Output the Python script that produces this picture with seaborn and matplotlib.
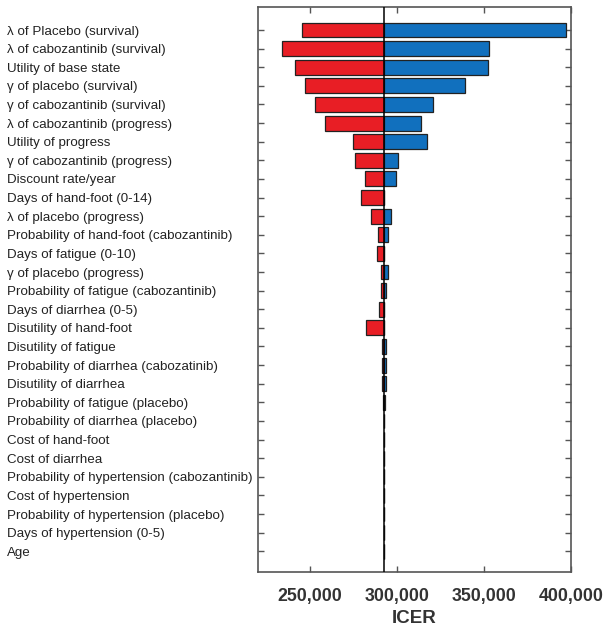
import numpy as np
import pandas as pd
import matplotlib
matplotlib.use("Agg")
import matplotlib.pyplot as plt
from matplotlib.ticker import FixedLocator, FuncFormatter
import seaborn as sns

# tornado diagram - one-way sensitivity of ICER
params = [
    "λ of Placebo (survival)",
    "λ of cabozantinib (survival)",
    "Utility of base state",
    "γ of placebo (survival)",
    "γ of cabozantinib (survival)",
    "λ of cabozantinib (progress)",
    "Utility of progress",
    "γ of cabozantinib (progress)",
    "Discount rate/year",
    "Days of hand-foot (0-14)",
    "λ of placebo (progress)",
    "Probability of hand-foot (cabozantinib)",
    "Days of fatigue (0-10)",
    "γ of placebo (progress)",
    "Probability of fatigue (cabozantinib)",
    "Days of diarrhea (0-5)",
    "Disutility of hand-foot",
    "Disutility of fatigue",
    "Probability of diarrhea (cabozatinib)",
    "Disutility of diarrhea",
    "Probability of fatigue (placebo)",
    "Probability of diarrhea (placebo)",
    "Cost of hand-foot",
    "Cost of diarrhea",
    "Probability of hypertension (cabozantinib)",
    "Cost of hypertension",
    "Probability of hypertension (placebo)",
    "Days of hypertension (0-5)",
    "Age",
]

base_icer = 292300

icer_low = [245500, 233600, 241100, 246900, 253000, 258700, 274800, 276000, 281700,
            279000, 284800, 289200, 288400, 290900, 290700, 289700, 282100,
            291400, 291400, 291400, 292000,
            292300, 292300, 292300, 292300, 292300, 292300, 292300, 292300]

icer_high = [396900, 352700, 352100, 339200, 320800, 313600, 317200, 300300, 299200,
             292300, 296700, 294900, 292300, 294900, 293600, 292300, 292300,
             293800, 293800, 293800, 292800,
             292300, 292300, 292300, 292300, 292300, 292300, 292300, 292300]

x_ticks = [250000, 300000, 350000, 400000]

red = "#E81E25"
blue = "#1170BE"

sns.set_theme(style="white")
plt.rcParams['font.family'] = ['Liberation Sans', 'DejaVu Sans']

df = pd.DataFrame({
    "param": params,
    "low": np.array(icer_low) - base_icer,
    "high": np.array(icer_high) - base_icer,
})

fig = plt.figure(figsize=(6.06, 6.27), dpi=100)
ax = fig.add_axes([258 / 606, 1 - 572.3 / 627, (571 - 258) / 606, (572.3 - 7.3) / 627])

sns.barplot(data=df, x="low", y="param", orient="h", color=red, saturation=1,
            edgecolor="#222222", linewidth=0.9, width=0.8, errorbar=None, ax=ax)
sns.barplot(data=df, x="high", y="param", orient="h", color=blue, saturation=1,
            edgecolor="#222222", linewidth=0.9, width=0.8, errorbar=None, ax=ax)

ax.axvline(0, color="black", lw=1.1, zorder=5)

ax.set_xlim(220000 - base_icer, 400000 - base_icer)
ax.set_ylim(len(params) - 1 + 1.13, -1.22)

ax.xaxis.set_major_locator(FixedLocator([t - base_icer for t in x_ticks]))
ax.xaxis.set_major_formatter(FuncFormatter(lambda v, p: f"{v + base_icer:,.0f}"))

ax.set_yticks(range(len(params)))
ax.set_yticklabels(params, ha="left", fontsize=9.6, color="#222222")

for s in ax.spines.values():
    s.set_color("#555555")
    s.set_linewidth(1.2)

ax.tick_params(axis="both", direction="in", length=4, width=1, color="#555555",
               top=True, right=True, left=True, bottom=True)
ax.tick_params(axis="y", pad=181)
ax.tick_params(axis="x", labelsize=12.8, labelcolor="#333333", pad=11)
for t in ax.get_xticklabels():
    t.set_fontweight("bold")

ax.set_ylabel("")
ax.set_xlabel("ICER", fontsize=13.5, fontweight="bold", color="#333333", labelpad=4)

fig.savefig("out.png", dpi=100)
